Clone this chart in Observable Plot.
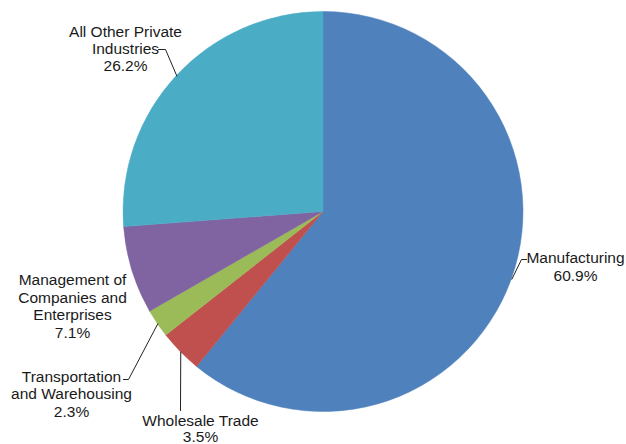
<!DOCTYPE html>
<html>
<head>
<meta charset="utf-8">
<script src="https://cdn.jsdelivr.net/npm/d3@7"></script>
<script src="https://cdn.jsdelivr.net/npm/@observablehq/plot@0.6"></script>
<style>
  html, body { margin: 0; padding: 0; background: #fff; }
  #chart { width: 626px; height: 444px; }
</style>
</head>
<body>
<div id="chart"></div>
<script>
// ---- data ----
const categories = [
  "Manufacturing",
  "Wholesale Trade",
  "Transportation and Warehousing",
  "Management of Companies and Enterprises",
  "All Other Private Industries"
];
const shares = [60.9, 3.5, 2.3, 7.1, 26.2];
const labelLines = [
  ["Manufacturing"],
  ["Wholesale Trade"],
  ["Transportation", "and Warehousing"],
  ["Management of", "Companies and", "Enterprises"],
  ["All Other Private", "Industries"]
];
const colors = ["#4F81BD", "#C0504D", "#9BBB59", "#8064A2", "#4BACC6"];

// ---- layout (pixels) ----
const W = 626, H = 444;
const center = [323, 211.5];
const R = 200;
const labelAnchor = [
  [575, 262],
  [200, 425],
  [71, 381],
  [72, 284.5],
  [125, 36]
];
const labelLineH = [18, 16.5, 17.5, 17.6, 17];
// elbow points of leader lines (after the point on the pie edge), null = no leader
const leaderBends = [
  [[521, 259], [526, 259]],
  [[180, 410]],
  [[128, 379], [123, 379]],
  null,
  [[165, 49], [158, 49]]
];

const data = categories.map((c, i) => ({category: c, share: shares[i], color: colors[i]}));
const arcs = d3.pie().sort(null).value(d => d.share)(data);

// label rows: one row per text line
const textRows = [];
data.forEach((d, i) => {
  const lines = [...labelLines[i], d.share.toFixed(1) + "%"];
  lines.forEach((t, j) => {
    textRows.push({text: t, x: labelAnchor[i][0], y: labelAnchor[i][1] + j * labelLineH[i]});
  });
});

// leader rows: start at slice mid-angle on the pie edge
const leaderRows = [];
arcs.forEach((a, i) => {
  if (!leaderBends[i]) return;
  const mid = (a.startAngle + a.endAngle) / 2;
  const p0 = [center[0] + R * Math.sin(mid), center[1] - R * Math.cos(mid)];
  [p0, ...leaderBends[i]].forEach(p => leaderRows.push({id: i, x: p[0], y: p[1]}));
});

const pieMark = (index, scales) => {
  const cx = scales.x(center[0]);
  const cy = scales.y(center[1]);
  const r = scales.x(center[0] + R) - cx;
  const arcGen = d3.arc().innerRadius(0).outerRadius(r);
  const g = d3.create("svg:g").attr("transform", `translate(${cx},${cy})`);
  g.selectAll("path")
    .data(arcs)
    .join("path")
    .attr("d", arcGen)
    .attr("fill", d => d.data.color)
    .attr("stroke", d => d.data.color)
    .attr("stroke-width", 0.5);
  return g.node();
};

const plot = Plot.plot({
  width: W,
  height: H,
  margin: 0,
  x: {domain: [0, W], range: [0, W], axis: null},
  y: {domain: [0, H], range: [0, H], axis: null},
  style: {background: "#fff", fontFamily: "'Liberation Sans', Arial, sans-serif"},
  marks: [
    pieMark,
    Plot.line(leaderRows, {x: "x", y: "y", z: "id", stroke: "#222", strokeWidth: 1}),
    Plot.text(textRows, {
      x: "x", y: "y", text: "text",
      lineAnchor: "bottom", textAnchor: "middle",
      fontSize: 15.5, fill: "#1a1a1a",
      fontFamily: "'Liberation Sans', Arial, sans-serif"
    })
  ]
});
document.getElementById("chart").appendChild(plot);
</script>
</body>
</html>
